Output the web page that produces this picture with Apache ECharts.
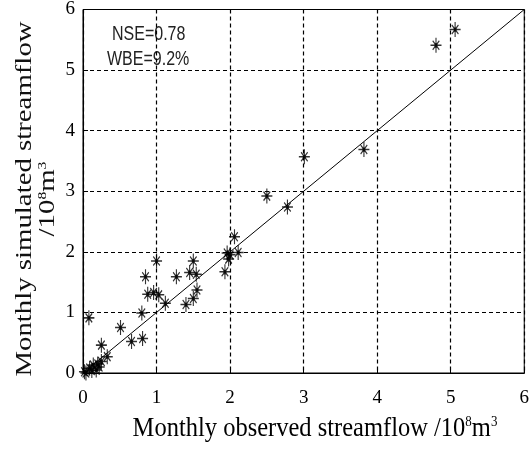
<!DOCTYPE html>
<html>
<head>
<meta charset="utf-8">
<script src="https://cdn.jsdelivr.net/npm/echarts@6/dist/echarts.min.js"></script>
<style>html,body{margin:0;padding:0;background:#fff;}#c{width:532px;height:450px;}</style>
</head>
<body>
<div id="c"></div>
<script>
// Observed (x) and simulated (y) monthly streamflow, 10^8 m^3
var observed = [0.02,0.04,0.09,0.12,0.14,0.18,0.20,0.22,0.25,0.33,0.25,0.08,0.51,0.66,0.81,0.80,0.85,0.88,0.96,1.00,1.03,1.12,1.27,1.40,1.45,1.50,1.50,1.54,1.55,1.93,1.96,1.98,2.00,2.06,2.11,2.50,2.78,3.01,3.82,4.80,5.06];
var simulated = [0.02,0.00,0.08,0.04,0.13,0.05,0.15,0.10,0.19,0.27,0.46,0.91,0.75,0.52,0.57,0.99,1.59,1.30,1.33,1.85,1.29,1.15,1.59,1.13,1.66,1.85,1.23,1.63,1.37,1.67,1.98,1.88,1.95,2.25,1.99,2.92,2.74,3.57,3.69,5.41,5.67];
var oneToOne = [[0,0],[6,6]];
var axisTicks = [0,1,2,3,4,5,6];
var statsText = ['NSE=0.78','WBE=9.2%'];
var xTitle = 'Monthly observed streamflow /10{s|8}m{s|3}';
var yTitle = 'Monthly simulated streamflow\n/10{s|8}m{s|3}';

var pts = observed.map(function(v,i){return [v, simulated[i]];});
var chart = echarts.init(document.getElementById('c'));
var serif = '"Liberation Serif","Times New Roman",serif';
var star = 'path://M0,-10L0,10M-10,0L10,0M-6,-6L6,6M-6,6L6,-6M-2.5,0A2.5,2.5 0 1,0 2.5,0A2.5,2.5 0 1,0 -2.5,0Z';
chart.setOption({
  animation:false,
  backgroundColor:'#fff',
  grid:{left:83,right:7,top:9,bottom:77,show:true,borderColor:'#000',borderWidth:1,backgroundColor:'transparent'},
  xAxis:{type:'value',min:axisTicks[0],max:axisTicks[axisTicks.length-1],interval:1,
    axisLine:{show:true,lineStyle:{color:'#000',width:1}},
    axisTick:{show:true,inside:true,length:5,lineStyle:{color:'#000'}},
    axisLabel:{color:'#000',fontFamily:serif,fontSize:19,margin:16},
    splitLine:{show:true,lineStyle:{color:'#000',type:[4,3],width:1.2}}},
  yAxis:{type:'value',min:axisTicks[0],max:axisTicks[axisTicks.length-1],interval:1,
    axisLine:{show:true,lineStyle:{color:'#000',width:1}},
    axisTick:{show:true,inside:true,length:5,lineStyle:{color:'#000'}},
    axisLabel:{color:'#000',fontFamily:serif,fontSize:19,margin:8},
    splitLine:{show:true,lineStyle:{color:'#000',type:[4,3],width:1.2}}},
  series:[
    {type:'line',data:oneToOne,symbol:'none',lineStyle:{color:'#000',width:1},silent:true,z:1},
    {type:'scatter',data:pts,symbol:star,symbolSize:[11,15],
     itemStyle:{color:'#000',borderColor:'#000',borderWidth:1.3},z:3}
  ],
  graphic:[
    {type:'text',x:112,y:34,scaleY:1.25,style:{text:statsText[0],font:'16px "Liberation Sans",Arial,sans-serif',fill:'#222',align:'left',verticalAlign:'middle'}},
    {type:'text',x:107,y:59,scaleY:1.25,style:{text:statsText[1],font:'16px "Liberation Sans",Arial,sans-serif',fill:'#222',align:'left',verticalAlign:'middle'}},
    {type:'text',x:315,y:429,scaleY:1.12,style:{text:xTitle,font:'24.5px '+serif,fill:'#000',align:'center',verticalAlign:'middle',
      rich:{s:{fontSize:13,fontFamily:serif,fill:'#000',verticalAlign:'top',lineHeight:24}}}},
    {type:'text',x:36,y:199,rotation:Math.PI/2,scaleX:1.2,style:{text:yTitle,font:'24px '+serif,fill:'#111',align:'center',verticalAlign:'middle',lineHeight:23,
      rich:{s:{fontSize:13,fontFamily:serif,fill:'#111',verticalAlign:'top',lineHeight:23}}}}
  ]
});
</script>
</body>
</html>
